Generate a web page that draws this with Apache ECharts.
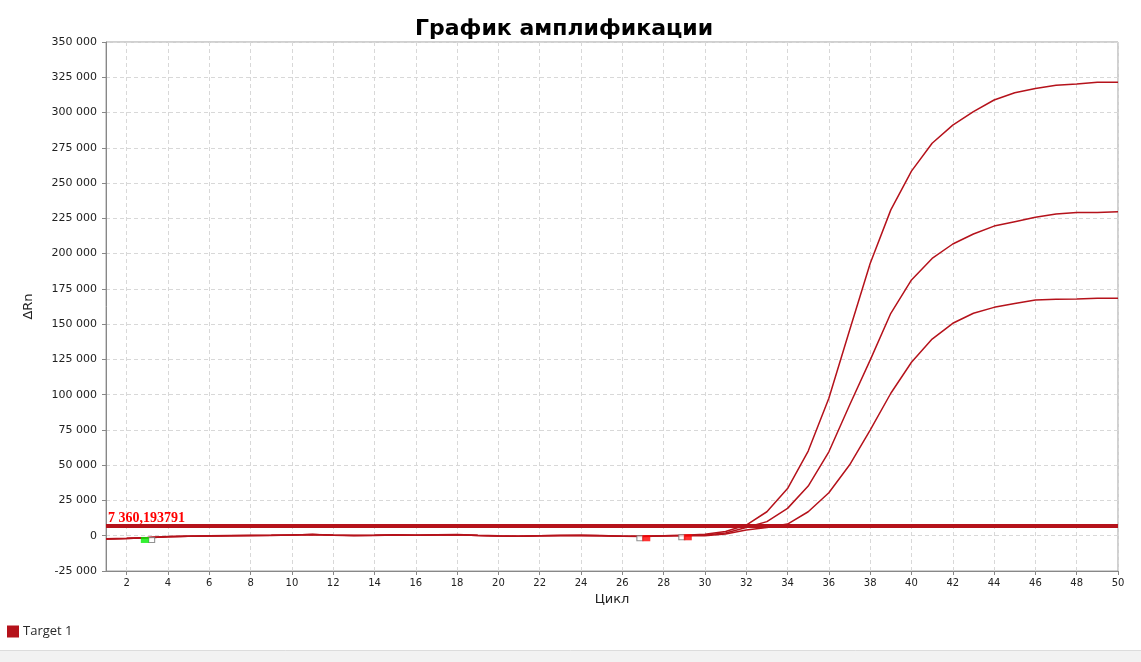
<!DOCTYPE html>
<html>
<head>
<meta charset="utf-8">
<script src="https://cdn.jsdelivr.net/npm/echarts@6/dist/echarts.min.js"></script>
<style>
html,body{margin:0;padding:0;background:#fff;}
#chart{width:1141px;height:662px;}
</style>
</head>
<body>
<div id="chart"></div>
<script>
const titleText = 'График амплификации';
const xName = 'Цикл';
const yName = 'ΔRn';
const legendName = 'Target 1';
const cycles = [1,2,3,4,5,6,7,8,9,10,11,12,13,14,15,16,17,18,19,20,21,22,23,24,25,26,27,28,29,30,31,32,33,34,35,36,37,38,39,40,41,42,43,44,45,46,47,48,49,50];
const curveA = [-2300,-1900,-1400,-700,-400,-200,0,200,300,600,900,500,200,300,700,400,700,800,300,-100,-300,0,200,300,100,-300,-400,0,400,1000,3000,7600,17000,33400,60000,97500,145500,193000,231000,258500,278200,291100,300600,308900,314000,317100,319300,320200,321500,321500];
const curveB = [-2200,-1800,-1300,-600,-300,-100,100,200,300,500,800,400,200,300,600,400,600,700,200,-200,-300,0,100,200,0,-300,-400,-100,200,500,2000,5800,10000,19400,35200,59500,92500,124500,157700,181300,196600,206800,213900,219500,222600,225700,228000,229200,229200,229700];
const curveC = [-2400,-2000,-1500,-800,-400,-200,0,100,200,500,800,400,100,200,600,300,600,700,200,-200,-400,-100,100,200,0,-400,-500,-200,100,0,1200,4000,5800,8300,17000,30500,50100,74900,101000,123000,139400,150600,157700,161900,164700,167100,167600,167800,168300,168300];
const thresholdValue = 7360.193791;
const thresholdLabel = '7 360,193791';
const xTickValues = [2,4,6,8,10,12,14,16,18,20,22,24,26,28,30,32,34,36,38,40,42,44,46,48,50];
const yMin = -25000, yMax = 350000, yStep = 25000;
const startMarkers = [[2.88,-3000]];
const startMarkersOpen = [[3.21,-3000]];
const ctMarkers = [[27.16,-1800],[29.17,-1100]];
const ctMarkersOpen = [[26.85,-1800],[28.88,-1100]];

const lineColor = '#b5121b';
const zip = (xs, ys) => xs.map((x, i) => [x, ys[i]]);
const fmt = v => {
  const s = String(Math.abs(v)).replace(/\B(?=(\d{3})+(?!\d))/g, ' ');
  return (v < 0 ? '-' : '') + s;
};

const chart = echarts.init(document.getElementById('chart'), null, {renderer: 'canvas'});
const lineSeries = (data, withMark) => {
  const s = {
    name: legendName,
    type: 'line',
    data: data,
    showSymbol: false,
    symbol: 'none',
    lineStyle: {color: lineColor, width: 1.5},
    itemStyle: {color: lineColor},
    z: 3,
    animation: false
  };
  if (withMark) {
    s.markLine = {
      silent: true,
      symbol: ['none', 'none'],
      lineStyle: {color: lineColor, width: 4, type: 'solid'},
      label: {
        show: true,
        position: 'insideStartTop',
        formatter: thresholdLabel,
        color: '#ff0000',
        fontFamily: 'Liberation Serif',
        fontWeight: 'bold',
        fontSize: 14,
        distance: [2, 0]
      },
      data: [{yAxis: thresholdValue}],
      animation: false
    };
  }
  return s;
};

chart.setOption({
  animation: false,
  backgroundColor: '#fff',
  title: {
    text: titleText,
    left: 410,
    top: 13,
    textStyle: {fontFamily: 'DejaVu Sans', fontWeight: 'bold', fontSize: 22, color: '#000'}
  },
  legend: {
    left: 7,
    top: 625,
    padding: 0,
    icon: 'rect',
    itemWidth: 12,
    itemHeight: 12,
    itemGap: 4,
    data: [legendName],
    textStyle: {fontFamily: 'Open Sans', fontSize: 13, color: '#2a2a2a', padding: [0, 0, 0, -1]}
  },
  grid: {
    left: 106, right: 23, top: 42, bottom: 91,
    show: true, borderColor: '#a0a0a0', borderWidth: 1, backgroundColor: 'transparent'
  },
  xAxis: {
    type: 'value',
    min: 1, max: 50,
    name: xName,
    nameLocation: 'middle',
    nameGap: 22,
    nameTextStyle: {fontFamily: 'DejaVu Sans', fontSize: 13, color: '#222'},
    axisLine: {onZero: false, lineStyle: {color: '#888'}},
    axisTick: {show: true, length: 4, lineStyle: {color: '#888'}, customValues: xTickValues},
    axisLabel: {customValues: xTickValues, margin: 7, fontFamily: 'DejaVu Sans', fontSize: 10, color: '#222'},
    splitLine: {show: true, lineStyle: {color: '#d8d8d8', type: [4, 3]}}
  },
  yAxis: {
    type: 'value',
    min: yMin, max: yMax, interval: yStep,
    name: yName,
    nameLocation: 'middle',
    nameGap: 71,
    nameRotate: 90,
    nameTextStyle: {fontFamily: 'DejaVu Sans', fontSize: 13, color: '#222'},
    axisLine: {show: true, lineStyle: {color: '#888'}},
    axisTick: {show: true, length: 4, lineStyle: {color: '#888'}},
    axisLabel: {margin: 9, fontFamily: 'DejaVu Sans', fontSize: 11, color: '#222', formatter: fmt},
    splitLine: {show: true, lineStyle: {color: '#d8d8d8', type: [4, 3]}}
  },
  graphic: [
    {type: 'rect', left: 0, top: 650, shape: {width: 1141, height: 12}, style: {fill: '#f2f2f2'}, silent: true},
    {type: 'line', shape: {x1: 0, y1: 650.5, x2: 1141, y2: 650.5}, style: {stroke: '#dcdcdc', lineWidth: 1}, silent: true}
  ],
  series: [
    lineSeries(zip(cycles, curveC), false),
    lineSeries(zip(cycles, curveB), false),
    lineSeries(zip(cycles, curveA), true),
    {type: 'scatter', name: 'ct-open', data: startMarkersOpen.concat(ctMarkersOpen), symbol: 'rect', symbolSize: [6, 5],
     itemStyle: {color: '#fff', borderColor: '#777', borderWidth: 1}, z: 5, silent: true},
    {type: 'scatter', name: 'start', data: startMarkers, symbol: 'rect', symbolSize: [8, 6],
     itemStyle: {color: '#00ee00'}, z: 6, silent: true},
    {type: 'scatter', name: 'ct', data: ctMarkers, symbol: 'rect', symbolSize: [8, 6],
     itemStyle: {color: '#ff0000'}, z: 6, silent: true}
  ]
});
</script>
</body>
</html>
